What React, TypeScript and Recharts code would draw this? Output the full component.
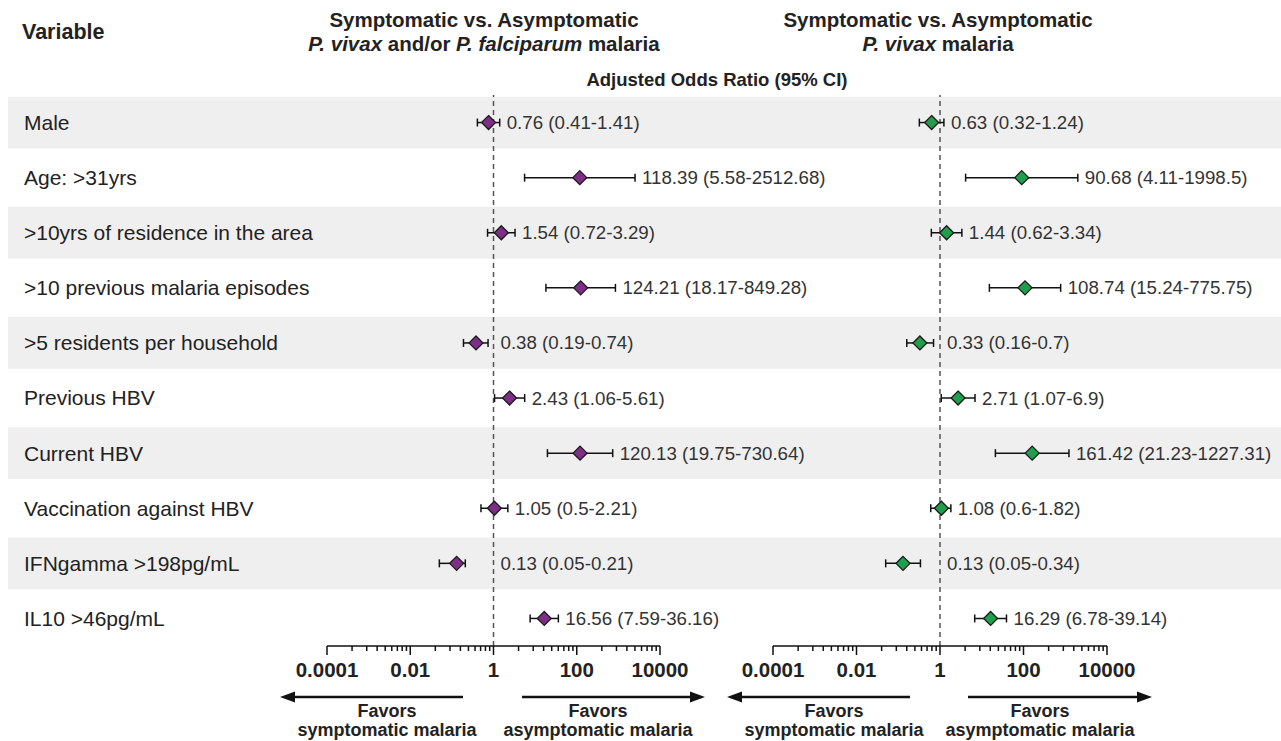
import React from 'react';
import {
  ComposedChart,
  Scatter,
  XAxis,
  YAxis,
  ErrorBar,
  ReferenceLine,
  ReferenceArea,
} from 'recharts';

// ---------- data ----------
const VARIABLES = [
  'Male',
  'Age: >31yrs',
  '>10yrs of residence in the area',
  '>10 previous malaria episodes',
  '>5 residents per household',
  'Previous HBV',
  'Current HBV',
  'Vaccination against HBV',
  'IFNgamma >198pg/mL',
  'IL10 >46pg/mL',
];

// Panel 1: P. vivax and/or P. falciparum
const OR_ALL = [0.76, 118.39, 1.54, 124.21, 0.38, 2.43, 120.13, 1.05, 0.13, 16.56];
const LO_ALL = [0.41, 5.58, 0.72, 18.17, 0.19, 1.06, 19.75, 0.5, 0.05, 7.59];
const HI_ALL = [1.41, 2512.68, 3.29, 849.28, 0.74, 5.61, 730.64, 2.21, 0.21, 36.16];

// Panel 2: P. vivax
const OR_PV = [0.63, 90.68, 1.44, 108.74, 0.33, 2.71, 161.42, 1.08, 0.13, 16.29];
const LO_PV = [0.32, 4.11, 0.62, 15.24, 0.16, 1.07, 21.23, 0.6, 0.05, 6.78];
const HI_PV = [1.24, 1998.5, 3.34, 775.75, 0.7, 6.9, 1227.31, 1.82, 0.34, 39.14];

const MAJOR_TICKS = [0.0001, 0.01, 1, 100, 10000];
const TICK_LABELS = ['0.0001', '0.01', '1', '100', '10000'];
const MINOR_MULT = [4, 9, 16, 25, 36, 49, 64, 81];
const ALL_TICKS = [
  ...MAJOR_TICKS,
  ...MAJOR_TICKS.slice(0, -1).flatMap((m) => MINOR_MULT.map((k) => m * k)),
];

const FAVORS_SYMPT = ['Favors', 'symptomatic malaria'];
const FAVORS_ASYMPT = ['Favors', 'asymptomatic malaria'];

const FONT = '"Liberation Sans", Arial, Helvetica, sans-serif';
const PURPLE = '#7e2e86';
const GREEN = '#1f9e4c';
const ROW_DOMAIN: [number, number] = [-0.5, 9.5];

function buildPoints(or: number[], lo: number[], hi: number[]) {
  return or.map((v, i) => ({ y: i, x: v, err: [v - lo[i], hi[i] - v] }));
}
function buildLabels(or: number[], lo: number[], hi: number[]) {
  return or.map((v, i) => ({
    y: i,
    x: Math.max(hi[i], 1),
    label: `${v} (${lo[i]}-${hi[i]})`,
  }));
}

const diamond = (color: string) => (p: any) => {
  const { cx, cy } = p;
  if (cx == null || cy == null) return <g />;
  const r = 7;
  return (
    <polygon
      points={`${cx},${cy - r} ${cx + r},${cy} ${cx},${cy + r} ${cx - r},${cy}`}
      fill={color}
      stroke="#1a1a1a"
      strokeWidth={1.3}
    />
  );
};

const labelShape = (p: any) => {
  const { cx, cy, payload } = p;
  if (cx == null || cy == null) return <g />;
  return (
    <text x={cx + 7} y={cy} dy="0.35em" fontSize={18.7} fill="#333" fontFamily={FONT}>
      {payload.label}
    </text>
  );
};

const AxisTick = (props: any) => {
  const { x, y, payload } = props;
  const idx = MAJOR_TICKS.indexOf(payload.value);
  const major = idx >= 0;
  return (
    <g>
      <line x1={x} x2={x} y1={y} y2={y + (major ? 9 : 5)} stroke="#111" strokeWidth={1.5} />
      {major && (
        <text
          x={x}
          y={y + 31}
          textAnchor="middle"
          fontSize={20.5}
          fontWeight="bold"
          fill="#222"
          fontFamily={FONT}
        >
          {TICK_LABELS[idx]}
        </text>
      )}
    </g>
  );
};

const RowTick = (props: any) => {
  const { y, payload } = props;
  return (
    <text x={24} y={y} dy="0.35em" fontSize={21} fill="#222" fontFamily={FONT}>
      {VARIABLES[payload.value]}
    </text>
  );
};

const CHART_H = 741;
const PLOT_TOP = 95;
const XAXIS_H = 40;
const BOTTOM_M = 55;

function Panel(props: {
  or: number[];
  lo: number[];
  hi: number[];
  color: string;
  width: number;
  marginLeft: number;
  marginRight: number;
  showRows: boolean;
  yAxisWidth: number;
}) {
  const points = buildPoints(props.or, props.lo, props.hi);
  const labels = buildLabels(props.or, props.lo, props.hi);
  return (
    <ComposedChart
      width={props.width}
      height={CHART_H}
      margin={{ top: PLOT_TOP, right: props.marginRight, bottom: BOTTOM_M, left: props.marginLeft }}
    >
      <XAxis
        type="number"
        dataKey="x"
        scale="log"
        domain={[0.0001, 10000]}
        ticks={ALL_TICKS}
        interval={0}
        height={XAXIS_H}
        tickSize={0}
        tickMargin={0}
        tickLine={false}
        axisLine={{ stroke: '#111', strokeWidth: 1.5 }}
        tick={(p: any) => <AxisTick {...p} />}
      />
      <YAxis
        type="number"
        dataKey="y"
        domain={ROW_DOMAIN}
        reversed
        hide={!props.showRows}
        width={props.yAxisWidth}
        ticks={VARIABLES.map((_, i) => i)}
        interval={0}
        axisLine={false}
        tickLine={false}
        tick={(p: any) => <RowTick {...p} />}
      />
      <ReferenceLine x={1} stroke="#555" strokeWidth={1.5} strokeDasharray="5 4" />
      <Scatter data={points} shape={diamond(props.color)} isAnimationActive={false}>
        <ErrorBar dataKey="err" direction="x" width={4} stroke="#111" strokeWidth={1.5} />
      </Scatter>
      <Scatter data={labels} shape={labelShape} isAnimationActive={false} />
    </ComposedChart>
  );
}

function Background() {
  const rows = VARIABLES.map((_, i) => ({ x: 0.5, y: i }));
  return (
    <ComposedChart
      width={1281}
      height={CHART_H}
      margin={{ top: PLOT_TOP, right: 0, bottom: BOTTOM_M + XAXIS_H, left: 8 }}
    >
      <XAxis type="number" dataKey="x" domain={[0, 1]} hide />
      <YAxis type="number" dataKey="y" domain={ROW_DOMAIN} reversed hide />
      {rows
        .filter((r) => r.y % 2 === 0)
        .map((r) => (
          <ReferenceArea
            key={r.y}
            x1={0}
            x2={1}
            y1={r.y - 0.47}
            y2={r.y + 0.47}
            fill="#efefef"
            fillOpacity={1}
            stroke="none"
          />
        ))}
      <Scatter data={rows} shape={() => <g />} isAnimationActive={false} />
    </ComposedChart>
  );
}

const abs = (left: number, top: number): React.CSSProperties => ({
  position: 'absolute',
  left,
  top,
});

function Favors(props: { center: number; lines: string[] }) {
  const base: React.CSSProperties = {
    position: 'absolute',
    left: props.center - 130,
    width: 260,
    textAlign: 'center',
    fontSize: 18,
    fontWeight: 'bold',
    lineHeight: '18px',
    color: '#222',
    whiteSpace: 'nowrap',
  };
  return (
    <>
      <div style={{ ...base, top: 702 }}>{props.lines[0]}</div>
      <div style={{ ...base, top: 721 }}>{props.lines[1]}</div>
    </>
  );
}

function Arrow(props: { tail: number; tip: number; y: number }) {
  const dir = props.tip > props.tail ? 1 : -1;
  const headLen = 15;
  const base = props.tip - dir * headLen;
  return (
    <g>
      <line x1={props.tail} x2={base} y1={props.y} y2={props.y} stroke="#111" strokeWidth={2.5} />
      <polygon
        points={`${props.tip},${props.y} ${base},${props.y - 5.5} ${base},${props.y + 5.5}`}
        fill="#111"
      />
    </g>
  );
}

export default function App() {
  return (
    <div
      style={{
        position: 'absolute',
        left: 0,
        top: 0,
        width: 1281,
        height: 741,
        background: '#fff',
        fontFamily: FONT,
        overflow: 'hidden',
      }}
    >
      <div style={abs(0, 0)}>
        <Background />
      </div>
      <div style={abs(0, 0)}>
        <Panel
          or={OR_ALL}
          lo={LO_ALL}
          hi={HI_ALL}
          color={PURPLE}
          width={860}
          marginLeft={0}
          marginRight={200}
          showRows={true}
          yAxisWidth={327}
        />
      </div>
      <div style={abs(700, 0)}>
        <Panel
          or={OR_PV}
          lo={LO_PV}
          hi={HI_PV}
          color={GREEN}
          width={581}
          marginLeft={73}
          marginRight={174}
          showRows={false}
          yAxisWidth={0}
        />
      </div>

      {/* headers */}
      <div style={{ ...abs(22, 20), fontSize: 21.5, fontWeight: 'bold', lineHeight: '24px', color: '#222' }}>
        Variable
      </div>
      <div
        style={{
          ...abs(284, 8),
          width: 400,
          textAlign: 'center',
          fontSize: 20.5,
          fontWeight: 'bold',
          lineHeight: '24px',
          color: '#222',
        }}
      >
        Symptomatic vs. Asymptomatic
        <br />
        <i>P. vivax</i> and/or <i>P. falciparum</i> malaria
      </div>
      <div
        style={{
          ...abs(738, 8),
          width: 400,
          textAlign: 'center',
          fontSize: 20.5,
          fontWeight: 'bold',
          lineHeight: '24px',
          color: '#222',
        }}
      >
        Symptomatic vs. Asymptomatic
        <br />
        <i>P. vivax</i> malaria
      </div>
      <div
        style={{
          ...abs(517, 69),
          width: 400,
          textAlign: 'center',
          fontSize: 18.5,
          fontWeight: 'bold',
          lineHeight: '22px',
          color: '#222',
        }}
      >
        Adjusted Odds Ratio (95% CI)
      </div>

      {/* favors arrows */}
      <svg width={1281} height={741} style={{ position: 'absolute', left: 0, top: 0, pointerEvents: 'none' }}>
        <Arrow tail={463} tip={280} y={697} />
        <Arrow tail={522} tip={705} y={697} />
        <Arrow tail={910} tip={727} y={697} />
        <Arrow tail={968} tip={1152} y={697} />
      </svg>
      <Favors center={387} lines={FAVORS_SYMPT} />
      <Favors center={598} lines={FAVORS_ASYMPT} />
      <Favors center={834} lines={FAVORS_SYMPT} />
      <Favors center={1040} lines={FAVORS_ASYMPT} />
    </div>
  );
}
